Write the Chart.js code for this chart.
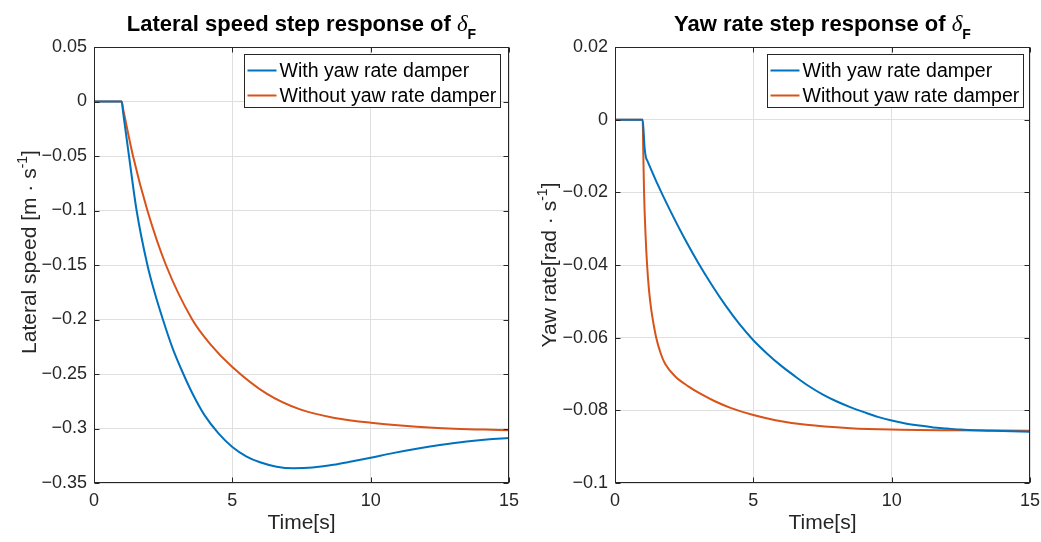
<!DOCTYPE html>
<html>
<head>
<meta charset="utf-8">
<script src="https://cdn.jsdelivr.net/npm/chart.js@4.4.1/dist/chart.umd.min.js"></script>
<style>
  html, body { margin: 0; padding: 0; background: #fff; }
  #wrap { position: relative; width: 1041px; height: 542px; }
  #wrap canvas { position: absolute; top: 0; }
</style>
</head>
<body>
<div id="wrap">
  <canvas id="lateral" width="520" height="542" style="left:0"></canvas>
  <canvas id="yaw" width="521" height="542" style="left:520px"></canvas>
</div>
<script>
// series names + colours
const seriesNames = ['With yaw rate damper', 'Without yaw rate damper'];
const seriesColors = ['#0072BD', '#D95319'];

// lateral speed, with damper
const latTimeDamper = [0, 1, 1.05, 1.265, 1.54, 1.93, 2.2, 2.49, 2.85, 3.23, 3.6, 4.0, 4.5, 5.0, 5.5, 6.0, 6.6, 7.2, 7.9, 8.65, 9.3, 10, 10.8, 11.66, 12.5, 13.47, 14.2, 15];
const latDamper = [0, 0, -0.0095, -0.05, -0.1, -0.15, -0.176, -0.2, -0.227, -0.25, -0.27, -0.288, -0.3045, -0.317, -0.3255, -0.331, -0.335, -0.3364, -0.3358, -0.3333, -0.3303, -0.3268, -0.3226, -0.3186, -0.3152, -0.3119, -0.3101, -0.3088];

// lateral speed, without damper
const latTimeFree = [0, 1, 1.05, 1.41, 1.93, 2.6, 3.55, 4.2, 5.0, 6.24, 7.45, 8.7, 10, 12.27, 15];
const latFree = [0, 0, -0.0065, -0.05, -0.1, -0.15, -0.2, -0.2225, -0.2435, -0.268, -0.2825, -0.2903, -0.2947, -0.2993, -0.3017];

// yaw rate, with damper
const yawTimeDamper = [0, 1, 1.07, 1.12, 1.15, 1.5, 2.0, 2.5, 3.0, 3.5, 4.0, 4.5, 5.0, 5.5, 6.0, 6.5, 7.0, 7.5, 8.0, 8.5, 9.0, 9.5, 10, 10.5, 11, 11.5, 12, 12.5, 13, 14, 15];
const yawDamper = [0, 0, -0.0078, -0.0105, -0.011, -0.0171, -0.0251, -0.0325, -0.0393, -0.0455, -0.0512, -0.0563, -0.0607, -0.0644, -0.0677, -0.0706, -0.0733, -0.0756, -0.0775, -0.0791, -0.0805, -0.0818, -0.0828, -0.0836, -0.0842, -0.0847, -0.085, -0.0853, -0.0855, -0.0857, -0.0859];

// yaw rate, without damper
const yawTimeFree = [0, 1, 1.02, 1.05, 1.1, 1.16, 1.23, 1.31, 1.4, 1.49, 1.65, 1.81, 2.17, 2.65, 3.1, 3.61, 4.2, 5, 5.8, 6.92, 8.5, 10, 12, 15];
const yawFree = [0, 0, -0.008, -0.02, -0.031, -0.04, -0.047, -0.0523, -0.0565, -0.06, -0.0643, -0.0672, -0.0706, -0.0734, -0.0755, -0.0775, -0.0794, -0.0813, -0.0827, -0.084, -0.0849, -0.0853, -0.0855, -0.0856];

// ticks
const timeTicks = [0, 5, 10, 15];
const timeTickLabels = ['0', '5', '10', '15'];
const latTicks = [-0.35, -0.3, -0.25, -0.2, -0.15, -0.1, -0.05, 0, 0.05];
const latTickLabels = ['\u22120.35', '\u22120.3', '\u22120.25', '\u22120.2', '\u22120.15', '\u22120.1', '\u22120.05', '0', '0.05'];
const yawTicks = [-0.1, -0.08, -0.06, -0.04, -0.02, 0, 0.02];
const yawTickLabels = ['\u22120.1', '\u22120.08', '\u22120.06', '\u22120.04', '\u22120.02', '0', '0.02'];

const SANS = '"Liberation Sans", Arial, Helvetica, sans-serif';
const SERIF = '"Liberation Serif", "Times New Roman", serif';
const INK = '#262626';

Chart.defaults.font.family = SANS;
Chart.defaults.color = INK;

// draws a run of text pieces with their own fonts / vertical offsets
function drawRun(ctx, parts, x, y, align) {
  let total = 0;
  parts.forEach(p => { ctx.font = p.font; p.w = ctx.measureText(p.text).width; total += p.w; });
  let cx = align === 'center' ? x - total / 2 : x;
  parts.forEach(p => {
    ctx.font = p.font;
    ctx.fillText(p.text, cx, y + (p.dy || 0));
    cx += p.w;
  });
}

const matlabFrame = {
  id: 'matlabFrame',
  afterDatasetsDraw(chart, args, opts) {
    const { ctx, chartArea: a, scales } = chart;
    const L = Math.round(a.left) + 0.5, R = Math.round(a.right) - 0.5;
    const T = Math.round(a.top) + 0.5, B = Math.round(a.bottom) - 0.5;
    ctx.save();
    ctx.strokeStyle = INK;
    ctx.lineWidth = 1;
    ctx.strokeRect(L, T, R - L, B - T);

    // inward tick marks on all four sides
    ctx.beginPath();
    scales.x.ticks.forEach(t => {
      const px = Math.round(scales.x.getPixelForValue(t.value)) + 0.5;
      ctx.moveTo(px, B); ctx.lineTo(px, B - 5);
      ctx.moveTo(px, T); ctx.lineTo(px, T + 5);
    });
    scales.y.ticks.forEach(t => {
      const py = Math.round(scales.y.getPixelForValue(t.value)) + 0.5;
      ctx.moveTo(L, py); ctx.lineTo(L + 5, py);
      ctx.moveTo(R, py); ctx.lineTo(R - 5, py);
    });
    ctx.stroke();

    // legend box, top right
    ctx.font = '19.5px ' + SANS;
    const names = chart.data.datasets.map(d => d.label);
    const tw = Math.max(...names.map(n => ctx.measureText(n).width));
    const bw = Math.round(35 + tw + 4), bh = 53;
    const bx = Math.round(a.right - opts.legendRight - bw) + 0.5, by = Math.round(a.top + 7) + 0.5;
    ctx.fillStyle = '#fff';
    ctx.fillRect(bx, by, bw, bh);
    ctx.strokeRect(bx, by, bw, bh);
    chart.data.datasets.forEach((d, i) => {
      const ry = by + 16 + i * 25;
      ctx.strokeStyle = d.borderColor;
      ctx.lineWidth = 2;
      ctx.beginPath();
      ctx.moveTo(bx + 3, ry); ctx.lineTo(bx + 32, ry);
      ctx.stroke();
      ctx.fillStyle = '#000';
      ctx.textBaseline = 'middle';
      ctx.textAlign = 'left';
      ctx.fillText(d.label, bx + 35, ry + 1);
    });
    ctx.restore();
  },
  afterDraw(chart, args, opts) {
    const { ctx, chartArea: a } = chart;
    const mid = (a.left + a.right) / 2;
    ctx.save();
    ctx.fillStyle = '#000';
    ctx.textAlign = 'left';
    ctx.textBaseline = 'alphabetic';

    // title with delta_F
    drawRun(ctx, [
      { text: opts.title, font: 'bold 22px ' + SANS },
      { text: '\u03b4', font: 'italic 23px ' + SERIF },
      { text: 'F', font: 'bold 14px ' + SANS, dy: 8 }
    ], mid, 31, 'center');

    // x label
    ctx.fillStyle = INK;
    drawRun(ctx, [{ text: 'Time[s]', font: '21px ' + SANS }], mid, 529, 'center');

    // y label, rotated
    ctx.translate(36, opts.ylabelCenter);
    ctx.rotate(-Math.PI / 2);
    drawRun(ctx, [
      { text: opts.ylabel, font: '21px ' + SANS },
      { text: '-1', font: '14px ' + SANS, dy: -9 },
      { text: ']', font: '21px ' + SANS }
    ], 0, 0, 'center');
    ctx.restore();
  }
};

function series(xs, ys) {
  return xs.map((x, i) => ({ x: x, y: ys[i] }));
}

function makeChart(id, sets, yTicks, yLabels, yWidth, frame) {
  new Chart(document.getElementById(id), {
    type: 'line',
    data: {
      datasets: sets.map((s, i) => ({
        label: seriesNames[i],
        data: s,
        borderColor: seriesColors[i],
        borderWidth: 2,
        pointRadius: 0,
        fill: false,
        cubicInterpolationMode: 'monotone'
      }))
    },
    options: {
      responsive: false,
      animation: false,
      devicePixelRatio: 1,
      layout: { padding: { top: 47, right: 11, left: 0, bottom: 0 } },
      plugins: {
        legend: { display: false },
        tooltip: { enabled: false },
        matlabFrame: frame
      },
      scales: {
        x: {
          type: 'linear',
          min: 0, max: 15,
          afterBuildTicks: s => { s.ticks = timeTicks.map(v => ({ value: v })); },
          afterFit: s => { s.height = 59; s.paddingLeft = 0; s.paddingRight = 0; },
          ticks: {
            callback: (v, i) => timeTickLabels[i],
            font: { size: 18 }, color: INK, padding: 7, maxRotation: 0
          },
          grid: { color: '#dfdfdf', lineWidth: 1, drawTicks: false },
          border: { display: false }
        },
        y: {
          type: 'linear',
          min: yTicks[0], max: yTicks[yTicks.length - 1],
          afterBuildTicks: s => { s.ticks = yTicks.map(v => ({ value: v })); },
          afterFit: s => { s.width = yWidth; s.paddingTop = 0; s.paddingBottom = 0; },
          ticks: {
            callback: (v, i) => yLabels[i],
            font: { size: 18 }, color: INK, padding: 7
          },
          grid: { color: '#dfdfdf', lineWidth: 1, drawTicks: false },
          border: { display: false }
        }
      }
    },
    plugins: [matlabFrame]
  });
}

makeChart('lateral',
  [series(latTimeDamper, latDamper), series(latTimeFree, latFree)],
  latTicks, latTickLabels, 94,
  { title: 'Lateral speed step response of ', ylabel: 'Lateral speed [m \u00b7 s', ylabelCenter: 252, legendRight: 9 });

makeChart('yaw',
  [series(yawTimeDamper, yawDamper), series(yawTimeFree, yawFree)],
  yawTicks, yawTickLabels, 95,
  { title: 'Yaw rate step response of ', ylabel: 'Yaw rate[rad \u00b7 s', ylabelCenter: 265, legendRight: 7 });
</script>
</body>
</html>
